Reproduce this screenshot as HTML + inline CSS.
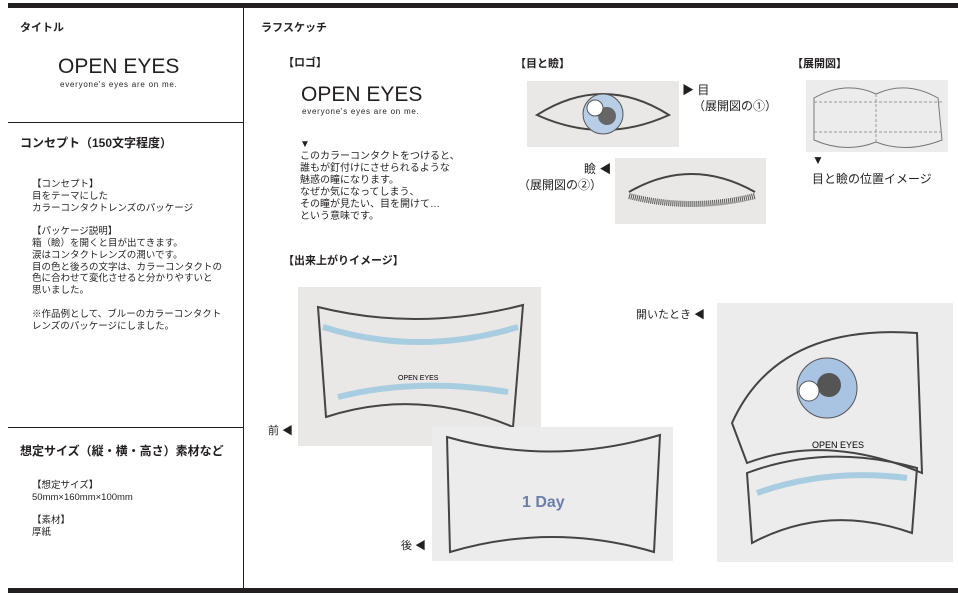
<!DOCTYPE html>
<html><head><meta charset="utf-8"><style>
body{margin:0;width:958px;height:598px;background:#fff;position:relative;overflow:hidden;font-family:"Liberation Sans","Noto Sans CJK JP",sans-serif;color:#231f20}
.a{position:absolute;white-space:nowrap;line-height:1}
.b{font-weight:bold}
.ph{position:absolute;background:#e9e8e6}
.t{font-size:9.5px;line-height:11.8px}
.logo{font-size:21px;transform:scaleX(1.0);transform-origin:left top}
.tag{font-size:8px;letter-spacing:0.75px}
</style></head><body>
<div style="position:absolute;left:8px;top:3px;width:950px;height:5px;background:#231f20"></div>
<div style="position:absolute;left:8px;top:588px;width:950px;height:5px;background:#231f20"></div>
<div style="position:absolute;left:243px;top:8px;width:1px;height:580px;background:#231f20"></div>
<div style="position:absolute;left:8px;top:122px;width:235px;height:1px;background:#231f20"></div>
<div style="position:absolute;left:8px;top:427px;width:235px;height:1px;background:#231f20"></div>

<div class="a b" style="left:20px;top:23px;font-size:11px">タイトル</div>
<div class="a logo" style="left:58px;top:56px">OPEN EYES</div>
<div class="a tag" style="left:60px;top:81px">everyone's eyes are on me.</div>
<div class="a b" style="left:20px;top:137px;font-size:12px">コンセプト（150文字程度）</div>
<div class="a t" style="left:32px;top:179px">【コンセプト】<br>目をテーマにした<br>カラーコンタクトレンズのパッケージ<br><br>【パッケージ説明】<br>箱（瞼）を開くと目が出てきます。<br>涙はコンタクトレンズの潤いです。<br>目の色と後ろの文字は、カラーコンタクトの<br>色に合わせて変化させると分かりやすいと<br>思いました。<br><br>※作品例として、ブルーのカラーコンタクト<br>レンズのパッケージにしました。</div>
<div class="a b" style="left:20px;top:445px;font-size:12px">想定サイズ（縦・横・高さ）素材など</div>
<div class="a t" style="left:32px;top:480px">【想定サイズ】<br>50mm×160mm×100mm<br><br>【素材】<br>厚紙</div>

<div class="a b" style="left:261px;top:23px;font-size:11px">ラフスケッチ</div>
<div class="a b" style="left:283px;top:58px;font-size:11px">【ロゴ】</div>
<div class="a logo" style="left:301px;top:84px">OPEN EYES</div>
<div class="a tag" style="left:302px;top:108px">everyone's eyes are on me.</div>
<div class="a" style="left:300px;top:139px;font-size:10px;line-height:12px">▼<br>このカラーコンタクトをつけると、<br>誰もが釘付けにさせられるような<br>魅惑の瞳になります。<br>なぜか気になってしまう、<br>その瞳が見たい、目を開けて…<br>という意味です。</div>
<div class="a b" style="left:515px;top:59px;font-size:11px">【目と瞼】</div>
<div class="a" style="left:682px;top:84px;font-size:12px">▶ 目</div>
<div class="a" style="left:693px;top:100px;font-size:12px">（展開図の①）</div>
<div class="a" style="left:584px;top:163px;font-size:12px">瞼 ◀</div>
<div class="a" style="left:518px;top:179px;font-size:12px">（展開図の②）</div>
<div class="a b" style="left:792px;top:59px;font-size:11px">【展開図】</div>
<div class="a" style="left:812px;top:154px;font-size:12px">▼</div>
<div class="a" style="left:812px;top:173px;font-size:12px">目と瞼の位置イメージ</div>
<div class="a b" style="left:283px;top:256px;font-size:11px">【出来上がりイメージ】</div>
<div class="a" style="left:268px;top:426px;font-size:11px">前 ◀</div>
<div class="a" style="left:401px;top:541px;font-size:11px">後 ◀</div>
<div class="a" style="left:636px;top:310px;font-size:11px">開いたとき ◀</div>

<svg class="ph" style="left:527px;top:81px" width="152" height="66"><path d="M10 34 Q76 -8 142 34 Q76 64 10 34Z" fill="none" stroke="#444" stroke-width="2"/><circle cx="76" cy="33" r="20" fill="#b8cde6" stroke="#555"/><circle cx="80" cy="35" r="9" fill="#666"/><circle cx="68" cy="27" r="8" fill="#fff" stroke="#555"/></svg>
<svg class="ph" style="left:615px;top:158px" width="151" height="66"><path d="M14 34 Q76 -2 140 34" fill="none" stroke="#444" stroke-width="2"/><path d="M14 38 Q76 54 140 38" fill="none" stroke="#555" stroke-width="6" stroke-dasharray="1 1"/></svg>
<svg class="ph" style="left:806px;top:80px;background:#ececec" width="142" height="72"><path d="M8 18 Q40 0 70 14 Q100 0 132 18 L136 60 Q100 74 70 62 Q40 74 8 60Z" fill="none" stroke="#777"/><path d="M8 22 H136 M8 52 H136 M70 14 V62" stroke="#999" stroke-dasharray="3 2" fill="none"/></svg>
<svg class="ph" style="left:298px;top:287px" width="243" height="159"><path d="M20 20 Q120 45 225 18 L215 140 Q120 100 28 130Z" fill="none" stroke="#444" stroke-width="2"/><path d="M25 40 Q120 70 220 40" stroke="#a9cde0" stroke-width="6" fill="none"/><path d="M40 110 Q120 90 210 105" stroke="#a9cde0" stroke-width="6" fill="none"/><text x="100" y="93" font-size="7" font-family="Liberation Sans">OPEN EYES</text></svg>
<svg class="ph" style="left:432px;top:427px;background:#ececec" width="241" height="134"><path d="M15 10 Q120 40 228 8 L222 125 Q120 95 18 125Z" fill="none" stroke="#444" stroke-width="2"/><text x="90" y="80" font-size="16" font-weight="bold" fill="#6b7fa8" font-family="Liberation Sans">1 Day</text></svg>
<svg class="ph" style="left:717px;top:303px;background:#ececec" width="236" height="259"><path d="M15 120 Q60 20 200 30 L205 170 Q110 130 30 160Z" fill="none" stroke="#444" stroke-width="2"/><circle cx="110" cy="85" r="30" fill="#a9c3e2" stroke="#555"/><circle cx="112" cy="82" r="12" fill="#555"/><circle cx="92" cy="88" r="10" fill="#fff" stroke="#555"/><path d="M30 170 Q110 140 200 165 L195 230 Q110 200 35 240Z" fill="none" stroke="#444" stroke-width="2"/><path d="M40 190 Q110 165 190 175" stroke="#a9cde0" stroke-width="6" fill="none"/><text x="95" y="145" font-size="9" font-family="Liberation Sans">OPEN EYES</text></svg>
</body></html>
